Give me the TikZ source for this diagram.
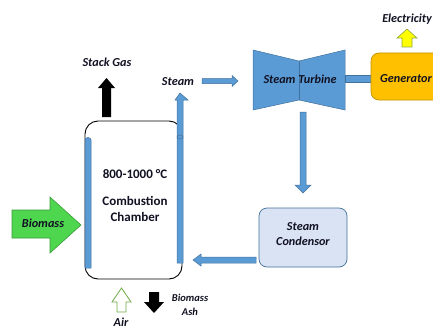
\documentclass[tikz,border=0pt]{standalone}
\usepackage{fontspec}
\setmainfont{Carlito}
\usetikzlibrary{calc}
\definecolor{pipe}{HTML}{5B9BD5}
\definecolor{pipeedge}{HTML}{41719C}
\definecolor{gen}{HTML}{FFC000}
\definecolor{genedge}{HTML}{BF9000}
\definecolor{cond}{HTML}{DAE3F3}
\definecolor{feed}{HTML}{4FD64F}
\definecolor{feededge}{HTML}{3C9A3C}
\definecolor{airedge}{HTML}{70AD47}
\definecolor{volt}{HTML}{FFFF00}
\definecolor{voltedge}{HTML}{8FA83A}
\definecolor{ink}{HTML}{111122}
\begin{document}
\begin{tikzpicture}[x=1pt,y=-1pt,
  lbl/.style={font=\bfseries\itshape\fontsize{12.2}{14}\selectfont, inner sep=0pt, text=ink},
  small/.style={font=\bfseries\itshape\fontsize{10.5}{13}\selectfont, inner sep=0pt, align=center, text=ink},
  hot/.style={font=\bfseries\fontsize{13}{15}\selectfont, inner sep=0pt, text=ink},
  pipefill/.style={fill=pipe, draw=pipeedge, line width=0.5pt},
  blockbox/.style={rounded corners=8pt, line width=0.7pt}]
\useasboundingbox (0,0) rectangle (433,329);

% combustion chamber outline
\draw[line width=0.9pt, rounded corners=13pt] (85,121) rectangle (182,279);
\coordinate (chamber) at (133.5,200);
% left water wall tube
\draw[pipefill] (85,268) -- (85,140) arc[start angle=180, end angle=0, x radius=3pt, y radius=2.5pt] -- (91,268) -- cycle;
% right riser tube, ending in the steam arrow
\draw[pipefill] (177,263) -- (177,100) -- (175,100) -- (180,93) -- (188,100) -- (183,100) -- (183,263) -- cycle;
\draw[pipeedge, line width=0.5pt] (180,137) ellipse[x radius=3pt, y radius=2pt];

% chamber texts
\node[hot] (temp) at (135,174) {800-1000 °C};
\node[hot, align=center] (cc) at (135,209) {Combustion\\[1pt]Chamber};

% stack gas
\node[lbl] (stack) at (107,62) {Stack Gas};
\fill (102,117) -- (102,88) -- (98,88) -- (106.5,78) -- (115,88) -- (111,88) -- (111,117) -- cycle;

% steam label and line to turbine
\node[lbl] (steam) at (178,82) {Steam};
\coordinate (sA) at (202,81);
\coordinate (sB) at (238,81);
\draw[pipefill] ($(sA)+(0,-2.5)$) -- ($(sB)+(-6,-2.5)$) -- ($(sB)+(-6,-5.5)$) -- (sB) -- ($(sB)+(-6,5.5)$) -- ($(sB)+(-6,2.5)$) -- ($(sA)+(0,2.5)$) -- cycle;

% steam turbine
\draw[pipefill] (253,50) -- (299,61) -- (345,50) -- (345,110) -- (299,100) -- (253,110) -- cycle;
\draw[pipeedge, line width=0.5pt] (299,61) -- (299,100);
\node[lbl] (turbine) at (300,79) {Steam Turbine};

% shaft to generator
\draw[pipefill] (345,75) rectangle (371,82);

% generator
\draw[blockbox, fill=gen, draw=genedge] (371,53) rectangle (450,100);
\node[lbl] (generator) at (406,79) {Generator};

% electricity output
\node[lbl] (elec) at (407,19) {Electricity};
\draw[fill=volt, draw=voltedge, line width=0.6pt] (402,47) -- (402,38) -- (397,38) -- (407,29) -- (417,38) -- (412,38) -- (412,47) -- cycle;

% turbine exhaust down to condenser
\draw[pipefill] (300,112) -- (300,185) -- (295,185) -- (303,193) -- (311,185) -- (306,185) -- (306,112) -- cycle;

% steam condenser
\draw[blockbox, fill=cond, draw=pipeedge] (259,208) rectangle (347,267);
\node[lbl, align=center] (condenser) at (303,234) {Steam\\[1pt]Condensor};

% condensate return to chamber
\coordinate (rA) at (256,260);
\coordinate (rB) at (193,260);
\draw[pipefill] ($(rA)+(0,-3)$) -- ($(rB)+(8,-3)$) -- ($(rB)+(8,-6)$) -- (rB) -- ($(rB)+(8,6)$) -- ($(rB)+(8,3)$) -- ($(rA)+(0,3)$) -- cycle;

% biomass feed
\draw[fill=feed, draw=feededge, line width=0.6pt] (12,210) -- (50,210) -- (50,197) -- (81,225) -- (50,253) -- (50,238) -- (12,238) -- cycle;
\node[lbl] (biomass) at (43,223) {Biomass};

% air inlet
\draw[fill=white, draw=airedge, line width=0.8pt] (117,312) -- (117,302) -- (112,302) -- (121.5,288) -- (131,302) -- (126,302) -- (126,312) -- cycle;
\node[lbl] (air) at (121,322) {Air};

% ash removal
\fill (149,292) -- (159,292) -- (159,302) -- (164,302) -- (154,313) -- (144,302) -- (149,302) -- cycle;
\node[small] (ash) at (190,305) {Biomass\\[1pt]Ash};
\end{tikzpicture}
\end{document}
